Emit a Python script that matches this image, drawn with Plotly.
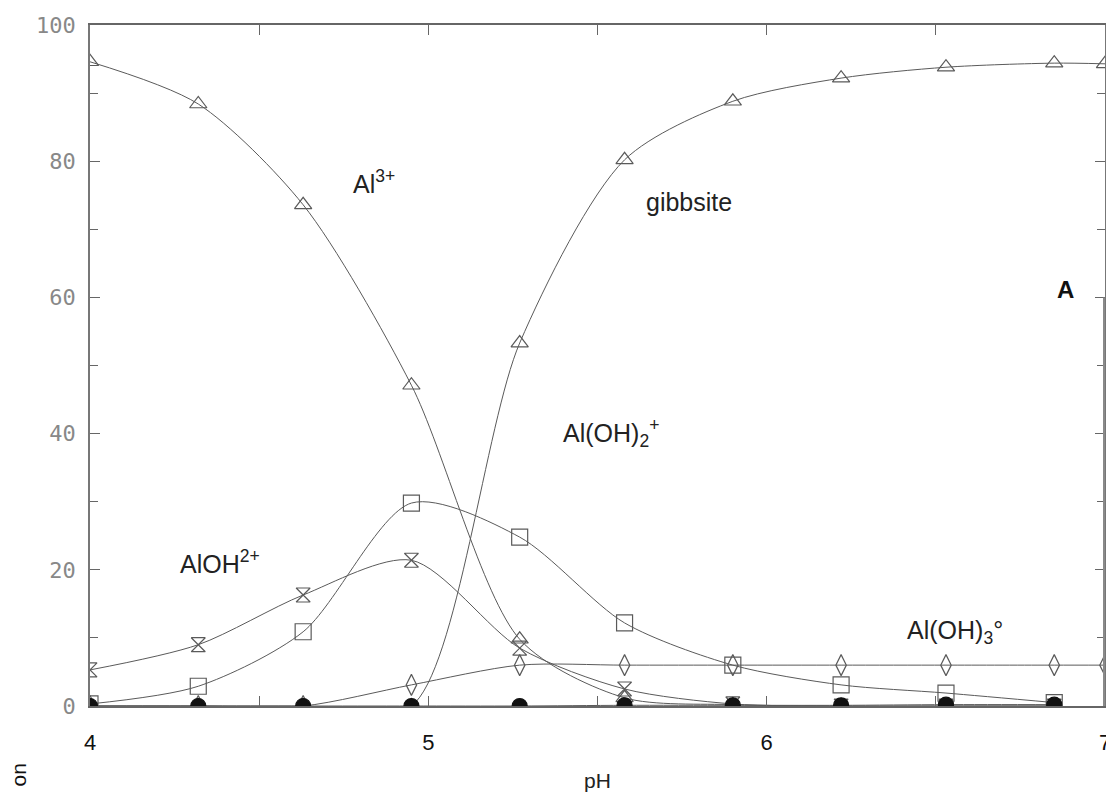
import plotly.graph_objects as go

ph = [4.0, 4.32, 4.63, 4.95, 5.27, 5.58, 5.90, 6.22, 6.53, 6.85]
al3 = [94.6, 88.4, 73.6, 47.1, 9.8, 1.2, 0.2, 0.0, 0.0, 0.0]
gibbsite = [0.0, 0.0, 0.0, 0.0, 53.3, 80.2, 88.8, 92.2, 93.8, 94.4]
aloh2 = [5.3, 9.0, 16.3, 21.4, 8.5, 2.5, 0.3, 0.0, 0.0, 0.0]
aloh2p = [0.3, 2.9, 10.9, 29.8, 24.8, 12.2, 6.0, 3.1, 1.9, 0.5]
aloh3 = [0.0, 0.0, 0.0, 3.1, 6.0, 6.0, 6.0, 6.0, 6.0, 6.0]
aloh4 = [0.0, 0.0, 0.0, 0.0, 0.0, 0.1, 0.1, 0.1, 0.2, 0.2]

ext_ph = ph + [7.0]
gib_ext = gibbsite + [94.3]
aloh3_ext = aloh3 + [6.0]

LC = "#5a5a5a"
fig = go.Figure()

def add(x, y, sym, size=11, color=LC, fill=None):
    fig.add_trace(go.Scatter(
        x=x, y=y, mode="lines+markers", cliponaxis=True,
        line=dict(color=LC, width=1.0, shape="spline", smoothing=0.8),
        marker=dict(symbol=sym, size=size, color=fill or color,
                    line=dict(color=color, width=1.2)),
        showlegend=False))

add(ph, al3, "triangle-up-open", size=15)
add(ext_ph, gib_ext, "triangle-up-open", size=15)
add(ph, aloh2, "hourglass-open", size=14)
add(ph, aloh2p, "square-open", size=16)
add(ext_ph, aloh3_ext, "diamond-tall-open", size=15)
add(ph, aloh4, "circle", size=15, color="#111111", fill="#111111")

# right border thick segment
fig.add_shape(type="line", x0=7.0, x1=7.0, y0=0, y1=60, xref="x", yref="y",
              line=dict(color="#8a8a8a", width=4))

FONT = "Liberation Sans, Arial"
ann = [
    (4.84, 76.9, "Al<sup>3+</sup>"),
    (5.77, 74.0, "gibbsite"),
    (5.54, 40.1, "Al(OH)<sub>2</sub><sup>+</sup>"),
    (4.385, 21.2, "AlOH<sup>2+</sup>"),
    (6.557, 10.9, "Al(OH)<sub>3</sub>°"),
]
for x, y, t in ann:
    fig.add_annotation(x=x, y=y, text=t, showarrow=False,
                       font=dict(family=FONT, size=25, color="#222222"))
fig.add_annotation(x=6.882, y=61.2, text="<b>A</b>", showarrow=False,
                   font=dict(family=FONT, size=24, color="#111111"))
fig.add_annotation(x=(18 - 90) / 1015, y=(706 - 762) / 681, xref="paper", yref="paper",
                   text="on", showarrow=False, textangle=-90,
                   xanchor="center", yanchor="top",
                   font=dict(family=FONT, size=21, color="#111111"))

fig.update_layout(
    width=1114, height=796,
    margin=dict(l=82, r=17, t=17, b=98),
    paper_bgcolor="white", plot_bgcolor="white",
    xaxis=dict(range=[4, 7], dtick=1, tick0=4, ticks="inside", ticklen=10, tickcolor="#666",
               showline=True, linecolor="#666", linewidth=1.5, mirror="ticks",
               showgrid=False, zeroline=False, ticklabelstandoff=16, automargin=False,
               tickfont=dict(family=FONT, size=22, color="#111"),
               minor=dict(ticks="inside", dtick=0.5, ticklen=10, tickcolor="#666"),
               title=dict(text="pH", font=dict(family=FONT, size=21, color="#222"),
                          standoff=19)),
    yaxis=dict(range=[0, 100], dtick=20, ticks="inside", ticklen=10, tickcolor="#666",
               showline=True, linecolor="#777", linewidth=1.5, mirror="ticks",
               showgrid=False, zeroline=False, ticklabelstandoff=8, automargin=False,
               tickfont=dict(family="DejaVu Sans Mono", size=22, color="#888"),
               minor=dict(ticks="inside", dtick=10, ticklen=8, tickcolor="#666")),
)

fig.write_html("out.html")
